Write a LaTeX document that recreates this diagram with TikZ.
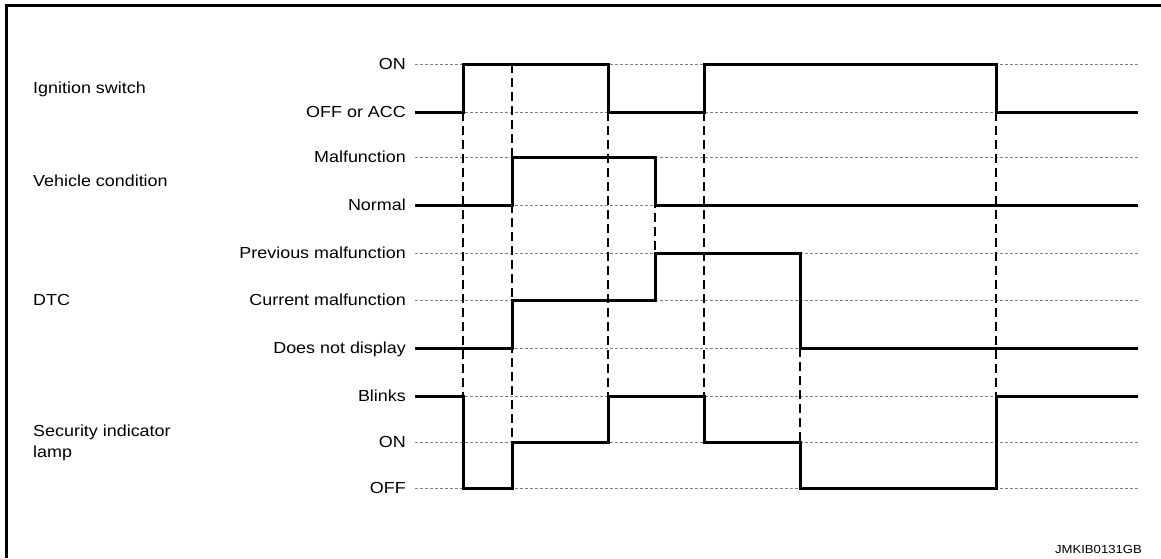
\documentclass[tikz,border=0pt]{standalone}
\usepackage{fontspec}
\setmainfont[FakeStretch=1.12]{Liberation Sans}
\begin{document}
\begin{tikzpicture}[
    x=1pt, y=-1pt,
    font=\fontsize{16}{21}\selectfont,
    level/.style={anchor=east, inner sep=0pt, text height=11.5pt, text depth=0pt},
    title/.style={anchor=west, inner sep=0pt, align=left},
    grid/.style={color=gray, line width=0.9pt, dash pattern=on 3pt off 2pt},
    event/.style={color=black, line width=1.1pt, dash pattern=on 9pt off 5pt},
    signal/.style={color=black, line width=3pt, line join=miter}
]
\useasboundingbox (0,0) rectangle (1161,558);

% Frame (top and left edge only)
\draw[line width=2.7pt, line join=miter] (6.2,558) -- (6.2,5.3) -- (1161,5.3);

% Signal names
\node[title, text height=11.5pt, text depth=0pt] (ign) at (33,88) {Ignition switch};
\node[title, text height=11.5pt, text depth=0pt] (veh) at (33,181) {Vehicle condition};
\node[title, text height=11.5pt, text depth=0pt] (dtc) at (33,300) {DTC};
\node[title] (lamp) at (33,443) {Security indicator\\lamp};

% Levels with dotted guide lines
\foreach \y/\lvl/\txt in {64/ignon/ON, 112/ignoff/OFF or ACC,
    157/vehmal/Malfunction, 205/vehnorm/Normal,
    253/dtcprev/Previous malfunction, 300/dtccur/Current malfunction,
    348/dtcnone/Does not display,
    396/lampblink/Blinks, 442/lampon/ON, 488/lampoff/OFF} {
  \node[level] (\lvl) at (406,\y) {\txt};
  \coordinate (\lvl-end) at (1138,\y);
  \draw[grid] ([xshift=9pt]\lvl.east) -- (\lvl-end);
}

% Event lines
\draw[event] (463,112) -- (463,396);
\draw[event] (512,64) -- (512,442);
\draw[event] (608,112) -- (608,396);
\draw[event] (655,157) -- (655,253);
\draw[event] (704,112) -- (704,396);
\draw[event] (800,348) -- (800,442);
\draw[event] (996,112) -- (996,396);

% Ignition switch
\draw[signal] ([xshift=9pt]ignoff.east) -- (463,112) -- (463,64) -- (608,64)
    -- (608,112) -- (704,112) -- (704,64) -- (996,64) -- (996,112) -- (ignoff-end);

% Vehicle condition
\draw[signal] ([xshift=9pt]vehnorm.east) -- (512,205) -- (512,157) -- (655,157)
    -- (655,205) -- (vehnorm-end);

% DTC
\draw[signal] ([xshift=9pt]dtcnone.east) -- (512,348) -- (512,300) -- (655,300)
    -- (655,253) -- (800,253) -- (800,348) -- (dtcnone-end);

% Security indicator lamp
\draw[signal] ([xshift=9pt]lampblink.east) -- (463,396) -- (463,488) -- (512,488)
    -- (512,442) -- (608,442) -- (608,396) -- (704,396) -- (704,442) -- (800,442)
    -- (800,488) -- (996,488) -- (996,396) -- (lampblink-end);

% Figure code
\node[anchor=base east, inner sep=0pt, font=\fontsize{11.7}{14}\selectfont] (code) at (1142,553) {JMKIB0131GB};

\end{tikzpicture}
\end{document}
